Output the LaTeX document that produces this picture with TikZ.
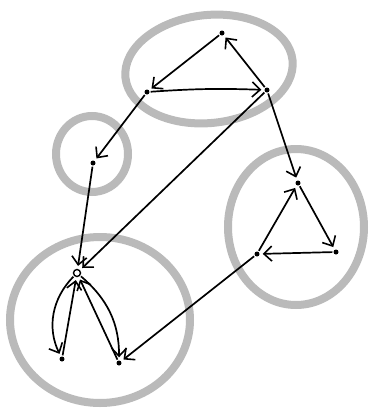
\documentclass[tikz,border=0pt]{standalone}
\usepackage{tikz}
\usetikzlibrary{arrows.meta}

\tikzset{
  vtx/.style={circle,fill=black,inner sep=0pt,minimum size=5pt},
  hub/.style={circle,draw=black,line width=1.4pt,inner sep=0pt,minimum size=7pt},
  scc/.style={draw=black!27,line width=8pt},
  arc/.style={line width=1.7pt,-{Straight Barb[length=8pt,width=15pt,line width=1.6pt]},shorten >=3pt,shorten <=1pt}
}

\begin{document}
\begin{tikzpicture}[x=1pt,y=-1pt]
            \useasboundingbox (0,0) rectangle (369,408);
            % components
            \draw[scc,rotate around={6:(209,69)}] (209,69) ellipse [x radius=84, y radius=54];
            \draw[scc] (92,154) ellipse [x radius=36, y radius=38];
            \draw[scc] (296,227) ellipse [x radius=68, y radius=78];
            \draw[scc] (100,320) ellipse [x radius=90, y radius=83];
            % vertices
            \node[vtx] at (222,33) (a) {};
            \node[vtx] at (147,92) (b) {};
            \node[vtx] at (267,90) (c) {};
            \node[vtx] at (93,163) (d) {};
            \node[vtx] at (298,183) (e) {};
            \node[vtx] at (336,252) (f) {};
            \node[vtx] at (257,254) (g) {};
            \node[hub] at (77,273) (h) {};
            \node[vtx] at (62,359) (i) {};
            \node[vtx] at (119,363) (j) {};
            % arcs
            \draw[arc] (a) to (b);
            \draw[arc] (b) to [bend left=3] (c);
            \draw[arc] (c) to (a);
            \draw[arc] (b) to (d);
            \draw[arc] (c) to (e);
            \draw[arc] (c) to (h);
            \draw[arc] (d) to (h);
            \draw[arc] (e) to (f);
            \draw[arc] (f) to (g);
            \draw[arc] (g) to (e);
            \draw[arc] (g) to (j);
            \draw[arc] (h) to [bend right=35] (i);
            \draw[arc] (i) to (h);
            \draw[arc] (j) to (h);
            \draw[arc] (h) to [bend left=25] (j);
        \end{tikzpicture}
\end{document}
